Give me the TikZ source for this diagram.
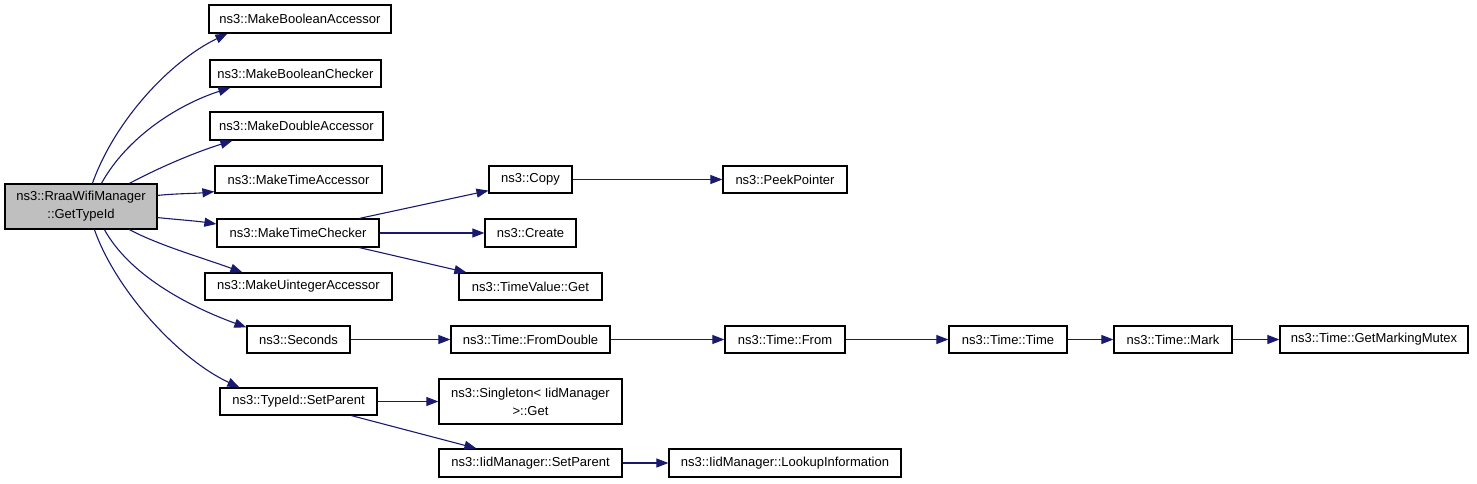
\documentclass[tikz,border=0pt]{standalone}
\usepackage{fontspec}
\setmainfont{Liberation Sans}
\usetikzlibrary{arrows.meta,calc}
\definecolor{edgeblue}{HTML}{191970}
\definecolor{rootgray}{HTML}{BFBFBF}
\begin{document}
\begin{tikzpicture}[x=1pt,y=-1pt,
  fn/.style={draw=black,line width=1.2pt,fill=white,inner sep=0pt,minimum height=27pt,
    font=\fontsize{13}{18}\selectfont,align=center},
  rootnode/.style={fn,fill=rootgray,minimum height=45pt},
  call/.style={draw=edgeblue,line width=1.1pt,-{Triangle[length=12pt,width=9pt]},fill=none},
]
\useasboundingbox (0,0) rectangle (1477,483);
% nodes
\node[rootnode,minimum width=152pt] (root) at (81,206.5) {ns3::RraaWifiManager\\::GetTypeId};
\node[fn,minimum width=182pt,minimum height=28pt] (mba) at (300,19) {ns3::MakeBooleanAccessor};
\node[fn,minimum width=171pt] (mbc) at (295.5,73.5) {ns3::MakeBooleanChecker};
\node[fn,minimum width=173pt,minimum height=28pt] (mda) at (296.5,126) {ns3::MakeDoubleAccessor};
\node[fn,minimum width=167pt] (mta) at (298.5,179.5) {ns3::MakeTimeAccessor};
\node[fn,minimum width=162pt,minimum height=28pt] (mtc) at (298,233) {ns3::MakeTimeChecker};
\node[fn,minimum width=187pt] (mua) at (298.5,286.5) {ns3::MakeUintegerAccessor};
\node[fn,minimum width=103pt] (sec) at (298.5,339.5) {ns3::Seconds};
\node[fn,minimum width=157pt] (tsp) at (298.5,401.5) {ns3::TypeId::SetParent};
\node[fn,minimum width=83pt] (copy) at (530.5,179.5) {ns3::Copy};
\node[fn,minimum width=91pt,minimum height=28pt] (create) at (530.5,233) {ns3::Create};
\node[fn,minimum width=143pt] (tvg) at (530.5,286.5) {ns3::TimeValue::Get};
\node[fn,minimum width=159pt] (tfd) at (530.5,339.5) {ns3::Time::FromDouble};
\node[fn,minimum width=183pt,minimum height=45pt] (sing) at (530.5,401.5) {ns3::Singleton< IidManager\\>::Get};
\node[fn,minimum width=183pt,minimum height=28pt] (isp) at (530.5,463) {ns3::IidManager::SetParent};
\node[fn,minimum width=124pt] (peek) at (785,179.5) {ns3::PeekPointer};
\node[fn,minimum width=120pt] (tfrom) at (785,339.5) {ns3::Time::From};
\node[fn,minimum width=118pt] (ttime) at (1008,339.5) {ns3::Time::Time};
\node[fn,minimum width=118pt] (mark) at (1173,339.5) {ns3::Time::Mark};
\node[fn,minimum width=188pt] (gmm) at (1374,339.5) {ns3::Time::GetMarkingMutex};
\node[fn,minimum width=232pt,minimum height=28pt] (lookup) at (785,463) {ns3::IidManager::LookupInformation};
% edges from root
\draw[call] ($(root.north west)+(88,0)$) .. controls +(22,-62) and +(-58,28) .. ($(mba.south west)+(19,0)$);
\draw[call] ($(root.north west)+(97,0)$) .. controls +(25,-45) and +(-55,18) .. ($(mbc.south west)+(21,0)$);
\draw[call] ($(root.north west)+(125,0)$) .. controls +(30,-16) and +(-38,12) .. ($(mda.south west)+(23,0)$);
\draw[call] ($(root.north east)+(0,12)$) .. controls +(20,-2) and +(-20,2) .. ($(mta.south west)+(0,-2)$);
\draw[call] ($(root.south east)+(0,-12)$) .. controls +(20,2) and +(-20,-3) .. ($(mtc.west)+(0,-9)$);
\draw[call] ($(root.south west)+(125,0)$) .. controls +(30,16) and +(-38,-14) .. ($(mua.north west)+(38,0)$);
\draw[call] ($(root.south west)+(100,0)$) .. controls +(25,45) and +(-60,-22) .. ($(sec.north west)+(0,2)$);
\draw[call] ($(root.south west)+(90,0)$) .. controls +(22,62) and +(-60,-28) .. ($(tsp.north west)+(20,0)$);
% second level
\draw[call] ($(mtc.north west)+(143,0)$) -- ($(copy.south west)+(0,-3)$);
\draw[call] (mtc.east) -- (create.west);
\draw[call] ($(mtc.south west)+(143,0)$) -- ($(tvg.north west)+(8,0)$);
\draw[call] (sec.east) -- (tfd.west);
\draw[call] (tsp.east) -- (sing.west);
\draw[call] ($(tsp.south west)+(132,0)$) -- ($(isp.north west)+(38,0)$);
% further
\draw[call] (copy.east) -- (peek.west);
\draw[call] (tfd.east) -- (tfrom.west);
\draw[call] (tfrom.east) -- (ttime.west);
\draw[call] (ttime.east) -- (mark.west);
\draw[call] (mark.east) -- (gmm.west);
\draw[call] (isp.east) -- (lookup.west);
\end{tikzpicture}
\end{document}
